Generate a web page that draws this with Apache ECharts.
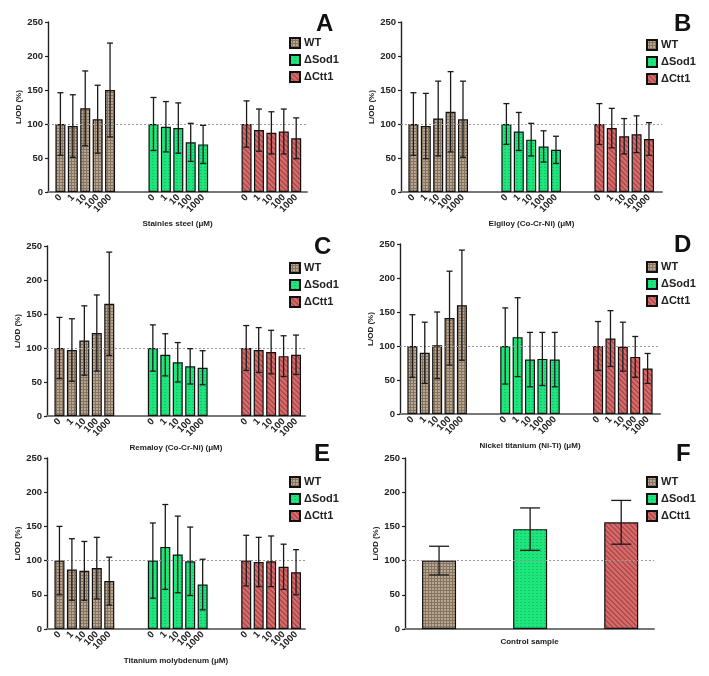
<!DOCTYPE html>
<html>
<head>
<meta charset="utf-8">
<script src="https://cdn.jsdelivr.net/npm/echarts@6/dist/echarts.min.js"></script>
<style>
  html, body { margin: 0; padding: 0; background: #fff; }
  #chart { width: 709px; height: 676px; }
</style>
</head>
<body>
<div id="chart"></div>
<script>
// concentration tick labels
const conc = ['0', '1', '10', '100', '1000']
const groups = ['WT', 'ΔSod1', 'ΔCtt1']

// A - Stainles steel
const steelWT = [100, 97, 123, 107, 150]
const steelWTsd = [46, 46, 55, 50, 69]
const steelSod = [100, 96, 94, 73, 70]
const steelSodSd = [39, 37, 37, 28, 28]
const steelCtt = [100, 91, 87, 89, 79]
const steelCttSd = [34, 31, 31, 33, 30]

// B - Elgiloy
const elgWT = [100, 97, 108, 118, 107]
const elgWTsd = [46, 48, 55, 59, 56]
const elgSod = [100, 89, 77, 67, 62]
const elgSodSd = [30, 28, 24, 23, 20]
const elgCtt = [100, 94, 82, 85, 78]
const elgCttSd = [30, 29, 26, 27, 24]

// C - Remaloy
const remWT = [100, 97, 111, 122, 165]
const remWTsd = [45, 46, 51, 56, 76]
const remSod = [100, 90, 79, 73, 71]
const remSodSd = [34, 31, 29, 26, 25]
const remCtt = [100, 97, 94, 88, 90]
const remCttSd = [33, 33, 32, 30, 29]

// D - Nickel titanium
const nitiWT = [100, 90, 101, 141, 160]
const nitiWTsd = [46, 45, 49, 69, 81]
const nitiSod = [100, 113, 80, 81, 80]
const nitiSodSd = [56, 58, 40, 39, 40]
const nitiCtt = [100, 111, 99, 84, 67]
const nitiCttSd = [36, 41, 36, 30, 22]

// E - Titanium molybdenum
const timoWT = [100, 87, 85, 89, 70]
const timoWTsd = [50, 45, 43, 45, 35]
const timoSod = [100, 120, 109, 99, 65]
const timoSodSd = [55, 62, 56, 50, 37]
const timoCtt = [100, 98, 99, 91, 83]
const timoCttSd = [37, 36, 37, 33, 33]

// F - control sample
const ctrlMean = [100, 146, 156]
const ctrlSd = [21, 31, 32]

const yTicks = [0, 50, 100, 150, 200, 250]
const FONT = 'Liberation Sans, Arial, sans-serif'

function pattern(kind) {
  const c = document.createElement('canvas')
  const ctx = c.getContext('2d')
  if (kind === 0) {
    c.width = 3; c.height = 3
    ctx.fillStyle = '#b8a695'; ctx.fillRect(0, 0, 3, 3)
    ctx.fillStyle = '#87745f'; ctx.fillRect(0, 2, 3, 1); ctx.fillRect(2, 0, 1, 3)
  } else if (kind === 1) {
    c.width = 4; c.height = 3
    ctx.fillStyle = '#1ee67d'; ctx.fillRect(0, 0, 4, 3)
    ctx.fillStyle = '#12c96a'; ctx.fillRect(0, 2, 2, 1)
  } else {
    c.width = 5; c.height = 5
    ctx.fillStyle = '#d46a6a'; ctx.fillRect(0, 0, 5, 5)
    ctx.fillStyle = '#b24c4c'
    for (let i = 0; i < 5; i++) { ctx.fillRect(i, i, 1, 1); ctx.fillRect((i + 1) % 5, i, 1, 1) }
  }
  return { image: c, repeat: 'repeat' }
}
const fills = [pattern(0), pattern(1), pattern(2)]

const panels = [
  { key: 'A', title: 'Stainles steel (μM)', grid: [48, 22, 259, 170], xMax: 20.87, lg: [289, 37], lt: [316, 12],
    mean: [steelWT, steelSod, steelCtt], sd: [steelWTsd, steelSodSd, steelCttSd] },
  { key: 'B', title: 'Elgiloy (Co-Cr-Ni) (μM)', grid: [401, 22, 261, 170], xMax: 21.05, lg: [646, 39], lt: [674, 12],
    mean: [elgWT, elgSod, elgCtt], sd: [elgWTsd, elgSodSd, elgCttSd] },
  { key: 'C', title: 'Remaloy (Co-Cr-Ni) (μM)', grid: [47, 246, 258, 170], xMax: 20.72, lg: [289, 262], lt: [314, 235],
    mean: [remWT, remSod, remCtt], sd: [remWTsd, remSodSd, remCttSd] },
  { key: 'D', title: 'Nickel titanium (Ni-Ti) (μM)', grid: [400, 244, 260, 170], xMax: 21.0, lg: [646, 261], lt: [674, 233],
    mean: [nitiWT, nitiSod, nitiCtt], sd: [nitiWTsd, nitiSodSd, nitiCttSd] },
  { key: 'E', title: 'Titanium molybdenum (μM)', grid: [47, 458, 258, 171], xMax: 20.72, lg: [289, 476], lt: [314, 442],
    mean: [timoWT, timoSod, timoCtt], sd: [timoWTsd, timoSodSd, timoCttSd] }
]

// bar x position inside a panel: 5 bars per group, groups 7.5 apart
const pos = (g, i) => g * 7.5 + i + 1

function errSeries(idx, data, cap) {
  return {
    type: 'custom', name: 'err', xAxisIndex: idx, yAxisIndex: idx, z: 5,
    encode: { x: 0, y: 1 },
    data: data,
    renderItem(params, api) {
      const x = api.value(0), m = api.value(1), s = api.value(2)
      const t = api.coord([x, m + s]), b = api.coord([x, m - s])
      const st = { stroke: '#1a1a1a', lineWidth: 1.3 }
      return {
        type: 'group',
        children: [
          { type: 'line', shape: { x1: t[0], y1: t[1], x2: b[0], y2: b[1] }, style: st },
          { type: 'line', shape: { x1: t[0] - cap, y1: t[1], x2: t[0] + cap, y2: t[1] }, style: st },
          { type: 'line', shape: { x1: b[0] - cap, y1: b[1], x2: b[0] + cap, y2: b[1] }, style: st }
        ]
      }
    }
  }
}

function yAxis(idx) {
  return {
    type: 'value', gridIndex: idx, min: 0, max: 250, interval: 50,
    name: 'L/OD (%)', nameLocation: 'middle', nameGap: 21,
    nameTextStyle: { fontSize: 8, fontWeight: 'bold', color: '#222', fontFamily: FONT },
    axisLine: { show: true, lineStyle: { color: '#222', width: 1.4 } },
    axisTick: { show: true, length: 3, lineStyle: { color: '#222', width: 1.2 } },
    axisLabel: { fontSize: 9.5, fontWeight: 'bold', color: '#222', fontFamily: FONT, margin: 5,
      formatter: v => yTicks.includes(v) ? String(v) : '' },
    splitLine: { show: false }
  }
}

const grid = [], xAxes = [], yAxes = [], series = [], legend = [], title = []
const barStyle = g => ({ color: fills[g], borderColor: '#111', borderWidth: 1.2 })
const refLine = {
  silent: true, symbol: 'none', label: { show: false },
  lineStyle: { type: [2, 2], color: '#999', width: 1 },
  data: [{ yAxis: 100 }]
}

panels.forEach((p, idx) => {
  grid.push({ left: p.grid[0], top: p.grid[1], width: p.grid[2], height: p.grid[3] })
  xAxes.push({
    type: 'value', gridIndex: idx, min: 0, max: p.xMax, interval: 0.5,
    name: p.title, nameLocation: 'middle', nameGap: 28,
    nameTextStyle: { fontSize: 8, fontWeight: 'bold', color: '#222', fontFamily: FONT },
    axisLine: { lineStyle: { color: '#777', width: 2 } },
    axisTick: { show: false },
    splitLine: { show: false },
    axisLabel: {
      rotate: 45, margin: 4, fontSize: 9.5, fontWeight: 'bold', color: '#222', fontFamily: FONT,
      formatter: v => {
        for (let g = 0; g < 3; g++) for (let i = 0; i < 5; i++) if (Math.abs(pos(g, i) - v) < 1e-6) return conc[i]
        return ''
      }
    }
  })
  yAxes.push(yAxis(idx))
  const err = []
  groups.forEach((name, g) => {
    series.push({
      type: 'bar', name: name, xAxisIndex: idx, yAxisIndex: idx, barWidth: 10, barGap: '-100%',
      itemStyle: barStyle(g),
      data: p.mean[g].map((v, i) => [pos(g, i), v]),
      markLine: g === 0 ? refLine : undefined
    })
    p.mean[g].forEach((v, i) => err.push([pos(g, i), v, p.sd[g][i]]))
  })
  series.push(errSeries(idx, err, 3))
  legend.push({ left: p.lg[0], top: p.lg[1] })
  title.push({ text: p.key, left: p.lt[0], top: p.lt[1] })
})

// F - control sample
const fi = panels.length
grid.push({ left: 405, top: 458, width: 249, height: 171 })
xAxes.push({
  type: 'value', gridIndex: fi, min: 0.626, max: 3.36,
  name: 'Control sample', nameLocation: 'middle', nameGap: 9,
  nameTextStyle: { fontSize: 8, fontWeight: 'bold', color: '#222', fontFamily: FONT },
  axisLine: { lineStyle: { color: '#777', width: 2 } },
  axisTick: { show: false }, axisLabel: { show: false }, splitLine: { show: false }
})
yAxes.push(yAxis(fi))
groups.forEach((name, g) => {
  series.push({
    type: 'bar', name: name, xAxisIndex: fi, yAxisIndex: fi, barWidth: 34, barGap: '-100%',
    itemStyle: barStyle(g),
    data: [[g + 1, ctrlMean[g]]],
    markLine: g === 0 ? refLine : undefined
  })
})
series.push(errSeries(fi, ctrlMean.map((v, g) => [g + 1, v, ctrlSd[g]]), 10))
legend.push({ left: 646, top: 476 })
title.push({ text: 'F', left: 676, top: 442 })

const chart = echarts.init(document.getElementById('chart'), null, { renderer: 'canvas' })
chart.setOption({
  animation: false,
  backgroundColor: '#fff',
  title: title.map(t => ({ ...t, padding: 0, textStyle: { fontSize: 24, fontWeight: 'bold', color: '#111', fontFamily: FONT } })),
  legend: legend.map(l => ({
    ...l, orient: 'vertical', padding: 0, itemGap: 5, itemWidth: 10, itemHeight: 10, icon: 'rect',
    data: groups, selectedMode: false,
    textStyle: { fontSize: 11, fontWeight: 'bold', color: '#222', fontFamily: FONT, padding: [0, 0, 0, -1] }
  })),
  grid: grid,
  xAxis: xAxes,
  yAxis: yAxes,
  series: series
})
</script>
</body>
</html>
